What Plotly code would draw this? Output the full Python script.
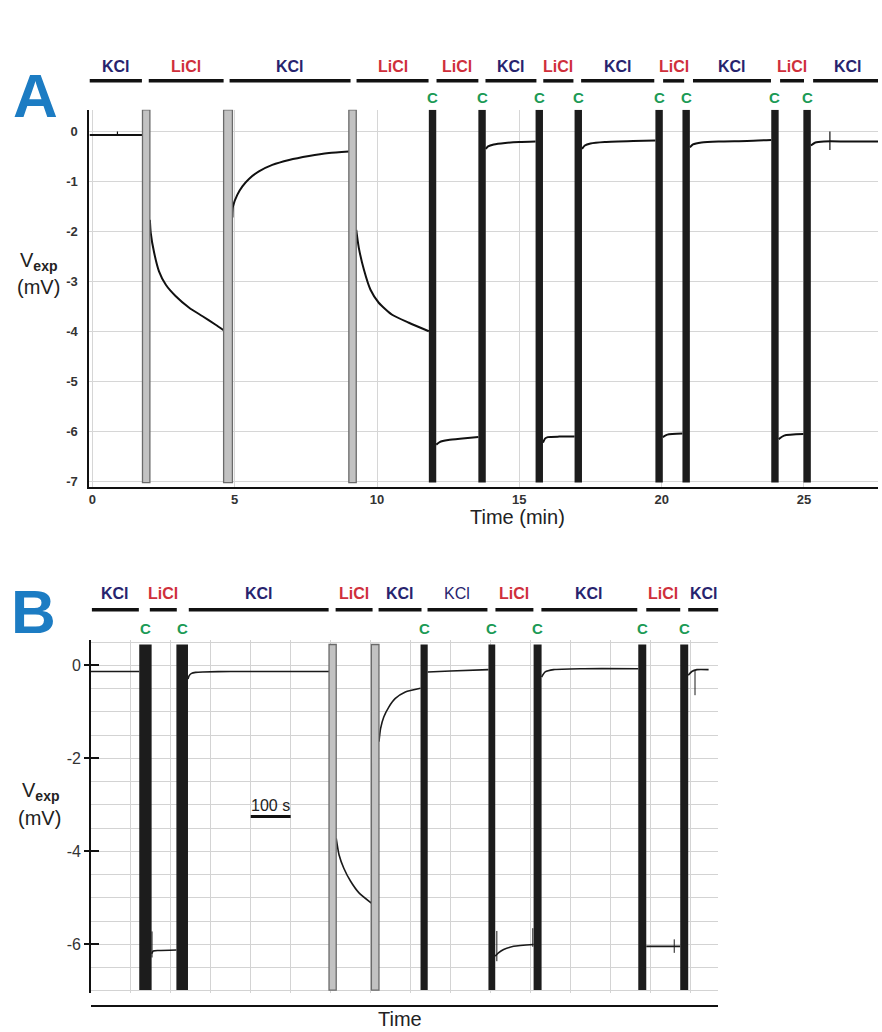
import plotly.graph_objects as go

W, H = 882, 1032
FONT = "Liberation Sans"
KCL_COLOR = "#27236e"
LICL_COLOR = "#cf2f3b"
C_COLOR = "#1b9a55"
LETTER_COLOR = "#1c7cc3"

# ---------------- Panel A data (time in min, voltage in mV) ----------------
A_t = [-0.1, 1.76, None,
       2.02, 2.05, 2.17, 2.34, 2.58, 2.93, 3.40, 3.87, 4.33, 4.61, None,
       4.92, 4.94, 5.09, 5.27, 5.50, 5.85, 6.32, 6.91, 7.61, 8.31, 9.01, None,
       9.27, 9.36, 9.54, 9.77, 10.06, 10.53, 11.12, 11.82, None,
       12.08, 12.2, 12.5, 13.0, 13.56, None,
       13.82, 13.9, 14.1, 14.5, 15.0, 15.57, None,
       15.83, 15.9, 16.0, 16.4, 16.94, None,
       17.2, 17.3, 17.5, 18.0, 19.0, 19.78, None,
       20.04, 20.2, 20.73, None,
       20.99, 21.1, 21.4, 22.0, 23.0, 23.85, None,
       24.11, 24.3, 24.98, None,
       25.24, 25.4, 25.7, 26.5, 27.6]
A_v = [-0.07, -0.07, None,
       -1.77, -2.03, -2.43, -2.80, -3.07, -3.30, -3.53, -3.70, -3.87, -3.98, None,
       -1.72, -1.50, -1.27, -1.10, -0.95, -0.80, -0.67, -0.57, -0.49, -0.43, -0.40, None,
       -1.97, -2.33, -2.77, -3.17, -3.43, -3.67, -3.83, -4.00, None,
       -6.27, -6.22, -6.18, -6.15, -6.12, None,
       -0.35, -0.30, -0.26, -0.23, -0.21, -0.20, None,
       -6.23, -6.15, -6.12, -6.11, -6.11, None,
       -0.35, -0.28, -0.24, -0.21, -0.19, -0.18, None,
       -6.12, -6.07, -6.05, None,
       -0.32, -0.26, -0.22, -0.20, -0.19, -0.17, None,
       -6.16, -6.09, -6.06, None,
       -0.28, -0.22, -0.20, -0.20, -0.20]
A_spike_t = [0.88, 0.88, None, 25.91, 25.91]
A_spike_v = [-0.07, 0.0, None, 0.0, -0.37]

A_gray_start = [1.76, 4.61, 9.01]
A_gray_end = [2.02, 4.92, 9.27]
A_black_start = [11.82, 13.56, 15.57, 16.94, 19.78, 20.73, 23.85, 24.98]
A_black_end = [12.08, 13.82, 15.83, 17.20, 20.04, 20.99, 24.11, 25.24]

A_sol = ["KCl", "LiCl", "KCl", "LiCl", "LiCl", "KCl", "LiCl", "KCl", "LiCl", "KCl", "LiCl", "KCl"]
A_sol_start = [-0.1, 1.98, 4.82, 9.28, 12.09, 13.81, 15.84, 17.17, 20.05, 21.10, 24.16, 25.32]
A_sol_end = [1.74, 4.61, 9.07, 11.81, 13.56, 15.60, 16.90, 19.74, 20.79, 23.84, 25.00, 27.74]

A_xticks = [0, 5, 10, 15, 20, 25]
A_yticks = [0, -1, -2, -3, -4, -5, -6, -7]

# ---------------- Panel B data (time in s, voltage in mV) ----------------
B_t = [0, 121, None,
       152, 156, 170, 214, None,
       243, 246, 252, 262, 280, 350, 596, None,
       614, 621, 633, 650, 671, 702, None,
       721, 725, 733, 746, 762, 787, 825, None,
       843, 900, 995, None,
       1012, 1020, 1033, 1058, 1108, None,
       1128, 1137, 1158, 1233, 1370, None,
       1390, 1420, 1475, None,
       1495, 1504, 1517, 1546]
B_v = [-0.13, -0.13, None,
       -6.20, -6.14, -6.13, -6.12, None,
       -0.29, -0.22, -0.17, -0.15, -0.14, -0.13, -0.13, None,
       -3.72, -4.07, -4.36, -4.64, -4.89, -5.11, None,
       -1.64, -1.36, -1.11, -0.89, -0.71, -0.57, -0.49, None,
       -0.14, -0.12, -0.09, None,
       -6.25, -6.18, -6.11, -6.04, -6.00, None,
       -0.25, -0.14, -0.09, -0.07, -0.07, None,
       -6.04, -6.04, -6.04, None,
       -0.21, -0.13, -0.09, -0.09]
B_spike_t = [153, 153, None, 1016, 1016, None, 1106, 1106, None, 1460, 1460, None, 1512, 1512]
B_spike_v = [-5.72, -6.28, None, -5.71, -6.36, None, -5.65, -6.05, None, -5.89, -6.18, None, -0.10, -0.64]

B_gray_start = [596, 702]
B_gray_end = [614, 721]
B_black_start = [121, 214, 825, 995, 1108, 1370, 1475]
B_black_end = [152, 243, 843, 1012, 1128, 1390, 1495]

B_sol = ["KCl", "LiCl", "KCl", "LiCl", "KCl", "KCl", "LiCl", "KCl", "LiCl", "KCl"]
B_sol_bold = [True, True, True, True, True, False, True, True, True, True]
B_sol_start = [2.5, 147.5, 245, 612.5, 720, 842.5, 1012.5, 1127.5, 1390, 1495]
B_sol_end = [120, 215, 595, 705, 827.5, 992.5, 1107.5, 1367.5, 1475, 1572.5]

B_yticks = [0, -2, -4, -6]
B_scalebar = [400, 500]   # 100 s
B_scalebar_v = -3.25

# ---------------- helpers for layout placement (pixels -> paper) ----------------
def pxx(p):
    return p / W

def pxy(p):
    return 1 - p / H

A_xrange = [-0.105, 27.6]
A_yrange = [-7.114, 0.434]
B_xrange = [0, 1570]
B_yrange = [-7.045, 0.537]
A_bar_bottom = -7.03
B_bar_top, B_bar_bottom = 0.45, -6.98

fig = go.Figure()
fig.add_trace(go.Scatter(x=A_t, y=A_v, mode="lines", xaxis="x", yaxis="y",
                         line=dict(color="#111111", width=2, shape="spline", smoothing=0.6),
                         connectgaps=False, hoverinfo="skip", showlegend=False))
fig.add_trace(go.Scatter(x=A_spike_t, y=A_spike_v, mode="lines", xaxis="x", yaxis="y",
                         line=dict(color="#111111", width=1.2), hoverinfo="skip", showlegend=False))
fig.add_trace(go.Scatter(x=B_t, y=B_v, mode="lines", xaxis="x2", yaxis="y2",
                         line=dict(color="#1a1a1a", width=1.6, shape="spline", smoothing=0.6),
                         connectgaps=False, hoverinfo="skip", showlegend=False))
fig.add_trace(go.Scatter(x=B_spike_t, y=B_spike_v, mode="lines", xaxis="x2", yaxis="y2",
                         line=dict(color="#1a1a1a", width=1.0), hoverinfo="skip", showlegend=False))
fig.add_trace(go.Scatter(x=[None], y=[None], mode="lines", xaxis="x2", yaxis="y3",
                         hoverinfo="skip", showlegend=False))

shapes = []
annotations = []


def note(**kw):
    d = dict(showarrow=False, xanchor="center", yanchor="middle")
    d.update(kw)
    annotations.append(d)


# bars panel A
for s, e in zip(A_gray_start, A_gray_end):
    shapes.append(dict(type="rect", xref="x", yref="y", x0=s, x1=e, y0=A_bar_bottom, y1=A_yrange[1],
                       fillcolor="#c2c2c2", line=dict(color="#6a6a6a", width=1.3), layer="above"))
for s, e in zip(A_black_start, A_black_end):
    shapes.append(dict(type="rect", xref="x", yref="y", x0=s, x1=e, y0=A_bar_bottom, y1=A_yrange[1],
                       fillcolor="#1c1c1c", line=dict(width=0), layer="above"))
    note(x=(s + e) / 2, xref="x", y=pxy(98), yref="paper", text="<b>C</b>",
         font=dict(family=FONT, size=15, color=C_COLOR))

for name, s, e in zip(A_sol, A_sol_start, A_sol_end):
    shapes.append(dict(type="line", xref="x", yref="paper", x0=s, x1=e, y0=pxy(81), y1=pxy(81),
                       line=dict(color="#111111", width=3.5)))
    col = KCL_COLOR if name == "KCl" else LICL_COLOR
    note(x=(s + e) / 2, xref="x", y=pxy(67), yref="paper", text="<b>%s</b>" % name,
         font=dict(family=FONT, size=16, color=col))

# bars panel B
for s, e in zip(B_gray_start, B_gray_end):
    shapes.append(dict(type="rect", xref="x2", yref="y2", x0=s, x1=e, y0=B_bar_bottom, y1=B_bar_top,
                       fillcolor="#c2c2c2", line=dict(color="#6a6a6a", width=1.3), layer="above"))
for s, e in zip(B_black_start, B_black_end):
    shapes.append(dict(type="rect", xref="x2", yref="y2", x0=s, x1=e, y0=B_bar_bottom, y1=B_bar_top,
                       fillcolor="#1c1c1c", line=dict(width=0), layer="above"))
    note(x=(s + e) / 2, xref="x2", y=pxy(630), yref="paper", text="<b>C</b>",
         font=dict(family=FONT, size=15, color=C_COLOR))

for name, bold, s, e in zip(B_sol, B_sol_bold, B_sol_start, B_sol_end):
    shapes.append(dict(type="line", xref="x2", yref="paper", x0=s, x1=e, y0=pxy(611), y1=pxy(611),
                       line=dict(color="#111111", width=3.5)))
    col = KCL_COLOR if name == "KCl" else LICL_COLOR
    txt = ("<b>%s</b>" % name) if bold else name
    note(x=(s + e) / 2, xref="x2", y=pxy(595), yref="paper", text=txt,
         font=dict(family=FONT, size=16, color=col))

# scale bar in B
shapes.append(dict(type="line", xref="x2", yref="y2", x0=B_scalebar[0], x1=B_scalebar[1],
                   y0=B_scalebar_v, y1=B_scalebar_v, line=dict(color="#111111", width=3)))
note(x=sum(B_scalebar) / 2, xref="x2", y=B_scalebar_v, yref="y2", yanchor="bottom",
     yshift=1, text="100 s", font=dict(family=FONT, size=16, color="#222222"))

# panel letters and axis titles
note(x=pxx(35), y=pxy(96), xref="paper", yref="paper", text="<b>A</b>",
     font=dict(family=FONT, size=62, color=LETTER_COLOR))
note(x=pxx(33), y=pxy(613), xref="paper", yref="paper", text="<b>B</b>",
     font=dict(family=FONT, size=62, color=LETTER_COLOR))
note(x=pxx(38), y=pxy(262), xref="paper", yref="paper", text="V<sub><b>exp</b></sub>",
     font=dict(family=FONT, size=20, color="#222222"))
note(x=pxx(38), y=pxy(288), xref="paper", yref="paper", text="(mV)",
     font=dict(family=FONT, size=20, color="#222222"))
note(x=pxx(40), y=pxy(793), xref="paper", yref="paper", text="V<sub><b>exp</b></sub>",
     font=dict(family=FONT, size=20, color="#222222"))
note(x=pxx(39), y=pxy(820), xref="paper", yref="paper", text="(mV)",
     font=dict(family=FONT, size=20, color="#222222"))
note(x=pxx(517), y=pxy(518), xref="paper", yref="paper", text="Time (min)",
     font=dict(family=FONT, size=20, color="#222222"))
note(x=pxx(399), y=pxy(1021), xref="paper", yref="paper", text="Time",
     font=dict(family=FONT, size=20, color="#222222"))

grid_a = "#d6d6d6"
grid_b = "#d3d3d3"

fig.update_layout(
    width=W, height=H, autosize=False,
    margin=dict(l=0, r=0, t=0, b=0),
    paper_bgcolor="white", plot_bgcolor="white",
    showlegend=False,
    shapes=shapes, annotations=annotations,
    xaxis=dict(domain=[pxx(88.5), pxx(878)], range=A_xrange, anchor="y",
               showline=True, linecolor="#111111", linewidth=2,
               tickmode="array", tickvals=A_xticks, ticktext=["<b>%d</b>" % v for v in A_xticks],
               ticks="", tickfont=dict(family=FONT, size=13, color="#333333"),
               showgrid=True, gridcolor=grid_a, gridwidth=1, zeroline=False),
    yaxis=dict(domain=[pxy(487.7), pxy(110)], range=A_yrange, anchor="x",
               showline=True, linecolor="#111111", linewidth=2,
               tickmode="array", tickvals=A_yticks, ticktext=["<b>%d</b>" % v for v in A_yticks],
               ticks="", ticklabelstandoff=7, tickfont=dict(family=FONT, size=13, color="#333333"),
               showgrid=True, gridcolor=grid_a, gridwidth=1, zeroline=False),
    xaxis2=dict(domain=[pxx(90), pxx(718)], range=B_xrange, anchor="free", position=pxy(1008),
                showline=True, linecolor="#111111", linewidth=1.6,
                tickmode="linear", tick0=0, dtick=100, showticklabels=False, ticks="",
                showgrid=True, gridcolor=grid_b, gridwidth=1, zeroline=False),
    yaxis2=dict(domain=[pxy(995), pxy(641.7)], range=B_yrange, anchor="x2",
                showline=True, linecolor="#111111", linewidth=1.6,
                tickmode="array", tickvals=B_yticks, ticktext=[str(v) for v in B_yticks],
                ticks="outside", ticklen=5, tickwidth=1.6, tickcolor="#111111",
                tickfont=dict(family=FONT, size=16, color="#333333"),
                showgrid=True, gridcolor=grid_b, gridwidth=1, zeroline=False,
                minor=dict(tickmode="linear", tick0=0, dtick=0.5, showgrid=True,
                           gridcolor=grid_b, gridwidth=1, ticks="")),
    yaxis3=dict(domain=[pxy(995), pxy(641.7)], range=B_yrange, anchor="x2", overlaying="y2",
                showline=False, tickmode="array", tickvals=B_yticks, showticklabels=False,
                ticks="inside", ticklen=8, tickwidth=1.6, tickcolor="#111111",
                showgrid=False, zeroline=False),
)

fig.write_html("out.html", config={"displayModeBar": False},
               post_script="document.body.style.margin='0';document.body.style.overflow='hidden';")
